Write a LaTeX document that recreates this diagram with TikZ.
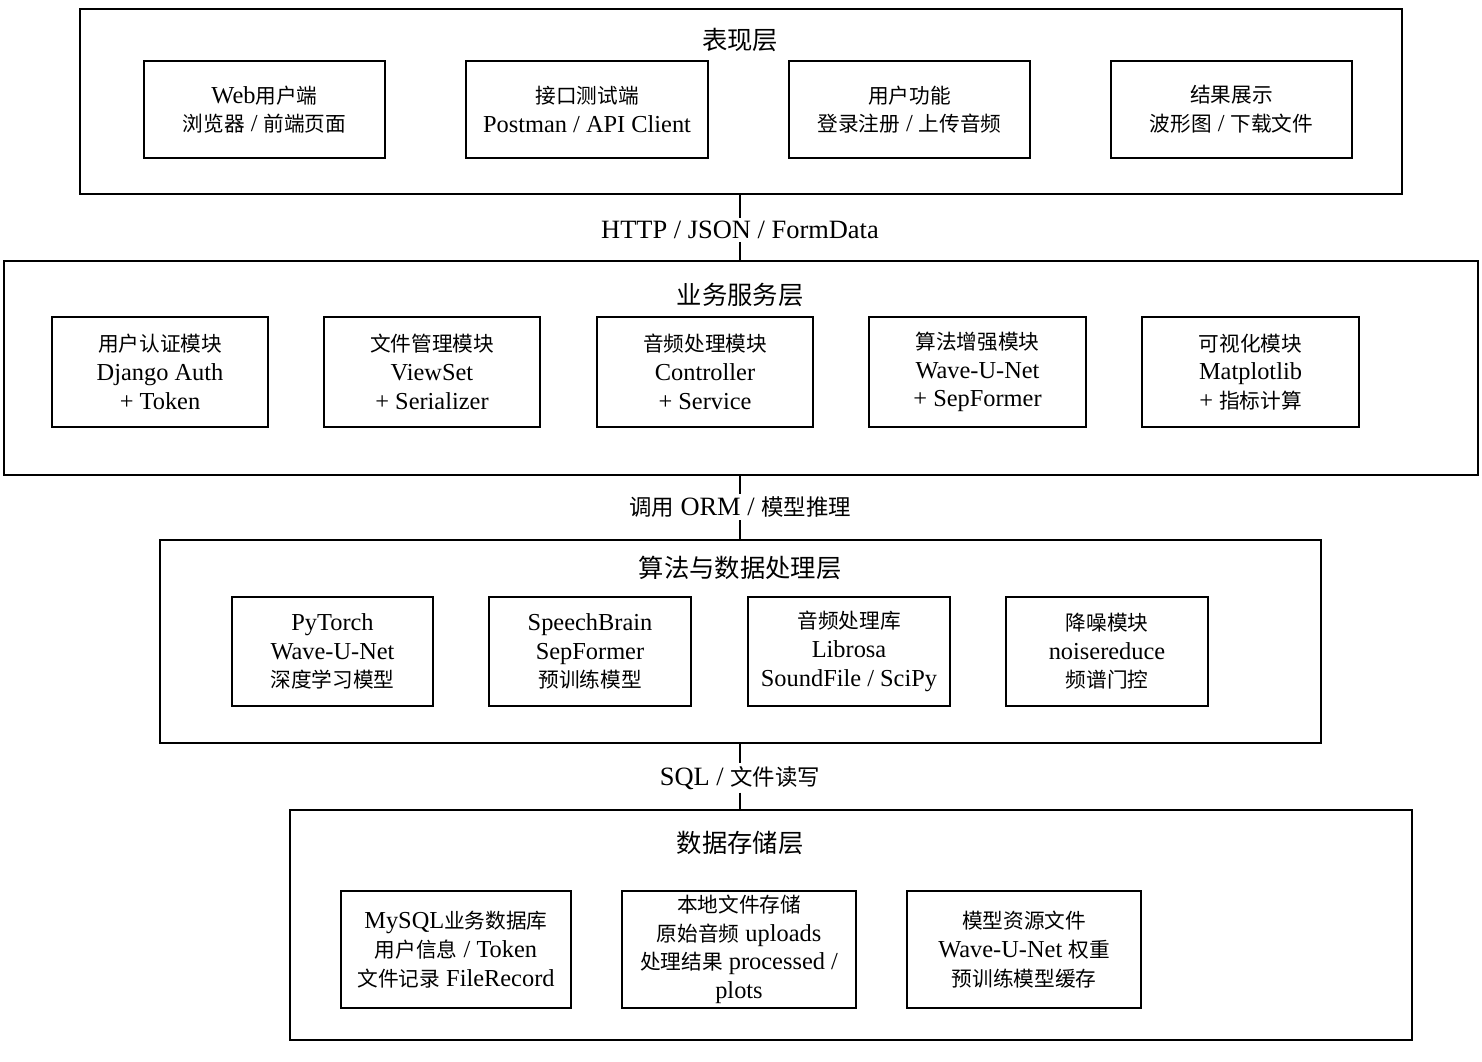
\documentclass[tikz,border=0pt]{standalone}
\usepackage{fontspec}
\setmainfont[Scale=1.18]{Liberation Serif}
\newfontfamily\zhfont{Noto Sans CJK SC}
\XeTeXinterchartokenstate=1
\newXeTeXintercharclass\CJKclass
\newcount\cc \cc="4E00
\loop \XeTeXcharclass\cc=\CJKclass \advance\cc 1 \ifnum\cc<"A000 \repeat
\XeTeXinterchartoks 0 \CJKclass = {\zhfont}
\XeTeXinterchartoks 4095 \CJKclass = {\zhfont}
\XeTeXinterchartoks \CJKclass 0 = {\rmfamily}
\XeTeXinterchartoks \CJKclass 4095 = {\rmfamily}
\begin{document}
\begin{tikzpicture}[x=0.75pt,y=-0.75pt,
  lw/.style={line width=1.3pt},
  box/.style={draw,lw,align=center,inner sep=0pt,font=\fontsize{15.5}{21.5}\selectfont},
  lab/.style={font=\fontsize{16.8}{20}\selectfont,inner sep=2pt,fill=white},
  ttlf/.style={font=\fontsize{19}{22}\selectfont,inner sep=2pt}]
\useasboundingbox (0,0) rectangle (1482,1062);
\newcommand\bx[6]{\node[box,minimum width={(#4-#2)*0.75pt},minimum height={(#5-#3)*0.75pt}] (#1) at ({(#2+#4)/2},{(#3+#5)/2}) {#6};}
\newcommand\ttl[4]{\node[ttlf] (#1) at (#2,#3) {#4};}
% layers
\bx{L1}{80}{9}{1402}{194}{}
\bx{L2}{4}{261}{1478}{475}{}
\bx{L3}{160}{540}{1321}{743}{}
\bx{L4}{290}{810}{1412}{1040}{}
\ttl{T1}{740}{40}{表现层}
\ttl{T2}{740}{295}{业务服务层}
\ttl{T3}{740}{568}{算法与数据处理层}
\ttl{T4}{740}{843}{数据存储层}
% layer 1
\bx{a1}{144}{61}{385}{158}{Web用户端\\浏览器 / 前端页面}
\bx{a2}{466}{61}{708}{158}{接口测试端\\Postman / API Client}
\bx{a3}{789}{61}{1030}{158}{用户功能\\登录注册 / 上传音频}
\bx{a4}{1111}{61}{1352}{158}{结果展示\\波形图 / 下载文件}
% layer 2
\bx{b1}{52}{317}{268}{427}{用户认证模块\\Django Auth\\+ Token}
\bx{b2}{324}{317}{540}{427}{文件管理模块\\ViewSet\\+ Serializer}
\bx{b3}{597}{317}{813}{427}{音频处理模块\\Controller\\+ Service}
\bx{b4}{869}{317}{1086}{427}{算法增强模块\\Wave-U-Net\\+ SepFormer}
\bx{b5}{1142}{317}{1359}{427}{可视化模块\\Matplotlib\\+ 指标计算}
% layer 3
\bx{c1}{232}{597}{433}{706}{PyTorch\\Wave-U-Net\\深度学习模型}
\bx{c2}{489}{597}{691}{706}{SpeechBrain\\SepFormer\\预训练模型}
\bx{c3}{748}{597}{950}{706}{音频处理库\\Librosa\\SoundFile / SciPy}
\bx{c4}{1006}{597}{1208}{706}{降噪模块\\noisereduce\\频谱门控}
% layer 4
\bx{d1}{341}{891}{571}{1008}{MySQL业务数据库\\用户信息 / Token\\文件记录 FileRecord}
\bx{d2}{622}{891}{856}{1008}{本地文件存储\\原始音频 uploads\\处理结果 processed /\\plots}
\bx{d3}{907}{891}{1141}{1008}{模型资源文件\\Wave-U-Net 权重\\预训练模型缓存}
% connectors
\node[lab] (m1) at (740,230) {HTTP / JSON / FormData};
\node[lab] (m2) at (740,507) {调用 ORM / 模型推理};
\node[lab] (m3) at (740,778) {SQL / 文件读写};
\draw[lw] (L1.south -| m1) -- (m1.north);
\draw[lw] (m1.south) -- (L2.north -| m1);
\draw[lw] (L2.south -| m2) -- (m2.north);
\draw[lw] (m2.south) -- (L3.north -| m2);
\draw[lw] (L3.south -| m3) -- (m3.north);
\draw[lw] (m3.south) -- (L4.north -| m3);
\end{tikzpicture}
\end{document}
